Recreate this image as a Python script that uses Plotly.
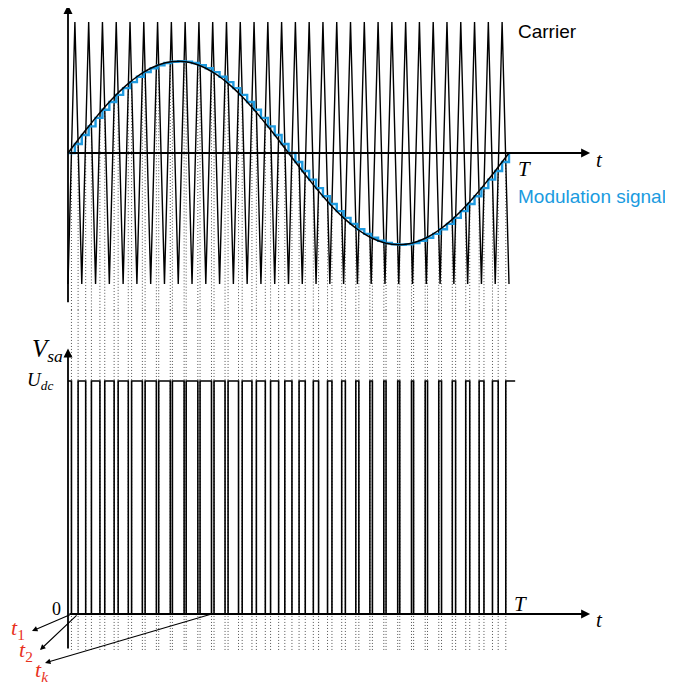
import plotly.graph_objects as go

# ---------------- data ----------------
period_T = 1.0                 # modulation period T
carrier_periods = 32           # carrier periods inside T
carrier_amplitude = 1.0        # carrier peak value
u_dc = 1.0                     # DC-link level U_dc
# modulation signal sampled at every half carrier period (asymmetric regular sampling)
mod_samples = [0.000, 0.069, 0.137, 0.203, 0.268, 0.330, 0.389, 0.444, 0.495, 0.541,
               0.582, 0.617, 0.647, 0.670, 0.687, 0.697, 0.700, 0.697, 0.687, 0.670,
               0.647, 0.617, 0.582, 0.541, 0.495, 0.444, 0.389, 0.330, 0.268, 0.203,
               0.137, 0.069, 0.000, -0.069, -0.137, -0.203, -0.268, -0.330, -0.389, -0.444,
               -0.495, -0.541, -0.582, -0.617, -0.647, -0.670, -0.687, -0.697, -0.700, -0.697,
               -0.687, -0.670, -0.647, -0.617, -0.582, -0.541, -0.495, -0.444, -0.389, -0.330,
               -0.268, -0.203, -0.137, -0.069, 0.000]
pwm_tail = 1.014               # output stays high a little after T

# ---------------- derived tables ----------------
n_half = 2 * carrier_periods
h = period_T / n_half
t_samples = [k * h for k in range(n_half + 1)]
carrier_y = [(-carrier_amplitude if k % 2 == 0 else carrier_amplitude) for k in range(n_half + 1)]

crossings = []
for k in range(n_half):
    s = mod_samples[k]
    if k % 2 == 0:
        c = t_samples[k] + (s + carrier_amplitude) / (2 * carrier_amplitude) * h
    else:
        c = t_samples[k] + (carrier_amplitude - s) / (2 * carrier_amplitude) * h
    crossings.append((c, s))

pwm_x = [0.0]
pwm_y = [u_dc]
level = u_dc
for c, s in crossings:
    pwm_x += [c, c]
    pwm_y += [level, u_dc - level]
    level = u_dc - level
pwm_x.append(pwm_tail)
pwm_y.append(level)

dot_top_x, dot_top_y, dot_bot_x, dot_bot_y = [], [], [], []
for c, s in crossings:
    dot_top_x += [c, c, None]
    dot_top_y += [s, -1.2, None]
    dot_bot_x += [c, c, None]
    dot_bot_y += [1.305, -0.155, None]

# ---------------- figure ----------------
OFF = 8                     # page body margin
W, H = 673 - OFF, 690 - OFF
X0 = 68 - OFF               # t = 0 pixel
PX_T = 441                  # pixels per T
Y0_TOP, PX_TOP = 153 - OFF, 131
Y0_BOT, PX_BOT = 614 - OFF, 233

fig = go.Figure()
DOT = "1px,2px"
fig.add_trace(go.Scatter(x=dot_top_x, y=dot_top_y, mode="lines",
                         line=dict(color="#555555", width=1, dash=DOT), yaxis="y"))
fig.add_trace(go.Scatter(x=dot_bot_x, y=dot_bot_y, mode="lines",
                         line=dict(color="#555555", width=1, dash=DOT), yaxis="y2"))
fig.add_trace(go.Scatter(x=t_samples, y=carrier_y, mode="lines",
                         line=dict(color="black", width=1.4), yaxis="y"))
fig.add_trace(go.Scatter(x=t_samples, y=mod_samples, mode="lines", line_shape="hv",
                         line=dict(color="#1f9be0", width=2.4), yaxis="y"))
fig.add_trace(go.Scatter(x=t_samples, y=mod_samples, mode="lines", line_shape="spline",
                         line=dict(color="black", width=1.5), yaxis="y"))
fig.add_trace(go.Scatter(x=pwm_x, y=pwm_y, mode="lines",
                         line=dict(color="black", width=1.6), yaxis="y2"))

ann = []

def arrow(x0, y0, x1, y1, yref, width=1.8, size=1.0):
    ann.append(dict(x=x1, y=y1, ax=x0, ay=y0, xref="x", yref=yref, axref="x", ayref=yref,
                    text="", showarrow=True, arrowhead=2, arrowsize=size, arrowwidth=width,
                    arrowcolor="black", standoff=0, startstandoff=0))

arrow(0, 0, 1.184, 0, "y")
arrow(0, -1.15, 0, 1.13, "y")
arrow(0, 0, 1.184, 0, "y2")
arrow(0, -0.155, 0, 1.14, "y2")

def t_label_arrow(tc, hx, hy):
    ann.append(dict(x=(hx - 68) / PX_T, y=(614 - hy) / PX_BOT, ax=tc, ay=0,
                    xref="x", yref="y2", axref="x", ayref="y2",
                    text="", showarrow=True, arrowhead=2, arrowsize=1, arrowwidth=1.1,
                    arrowcolor="black", standoff=0))

t_label_arrow(crossings[0][0], 32, 631)
t_label_arrow(crossings[1][0], 40, 650)
t_label_arrow(crossings[20][0], 45, 663)

def txt(s, px, py, size, color="black", family="Liberation Serif", xanchor="center"):
    ann.append(dict(text=s, x=(px - OFF) / W, y=1 - (py - OFF) / H, xref="paper", yref="paper",
                    showarrow=False, xanchor=xanchor, yanchor="middle",
                    font=dict(size=size, color=color, family=family)))

SERIF = "Liberation Serif"
SANS = "Liberation Sans"
RED = "#e8321e"
txt("Carrier", 547, 32, 19, family=SANS)
txt("Modulation signal", 592, 197, 19, color="#1a9be0", family=SANS)
txt("<i>t</i>", 599, 160, 21, family=SERIF)
txt("<i>T</i>", 524, 169, 21, family=SERIF)
txt("<i>V</i><sub><i>sa</i></sub>", 47, 350, 25, family=SERIF)
txt("<i>U</i><sub><i>dc</i></sub>", 40, 381, 19, family=SERIF)
txt("0", 56, 609, 18, family=SERIF)
txt("<i>T</i>", 520, 604, 21, family=SERIF)
txt("<i>t</i>", 599, 620, 21, family=SERIF)
txt("<i>t</i><sub>1</sub>", 18, 629, 22, color=RED, family=SERIF)
txt("<i>t</i><sub>2</sub>", 26, 651, 22, color=RED, family=SERIF)
txt("<i>t</i><sub><i>k</i></sub>", 42, 671, 22, color=RED, family=SERIF)

fig.update_layout(
    width=W, height=H, margin=dict(l=0, r=0, t=0, b=0),
    paper_bgcolor="white", plot_bgcolor="white", showlegend=False,
    xaxis=dict(range=[-X0 / PX_T, (W - X0) / PX_T], visible=False, fixedrange=True),
    yaxis=dict(range=[(Y0_TOP - H) / PX_TOP, Y0_TOP / PX_TOP], visible=False, fixedrange=True),
    yaxis2=dict(range=[(Y0_BOT - H) / PX_BOT, Y0_BOT / PX_BOT], overlaying="y", visible=False,
                fixedrange=True),
    annotations=ann,
)
fig.write_html("out.html")
